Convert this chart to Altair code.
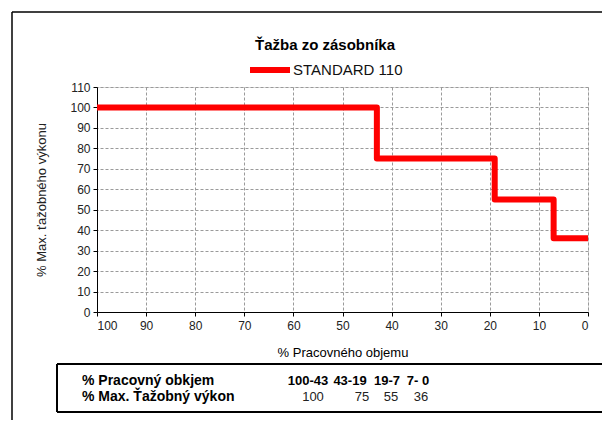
import altair as alt
import pandas as pd

# Data
bounds = [100, 43, 19, 7, 0]          # % Pracovného objemu breakpoints
levels = [100, 75, 55, 36]            # % Max. ťažobného výkonu
series_name = "STANDARD 110"
table_row_labels = ["% Pracovný obkjem", "% Max. Ťažobný výkon"]
table_ranges = ["100-43", "43-19", "19-7", "7- 0"]
table_values = ["100", "75", "55", "36"]

# build step line points
pts = []
for i, lv in enumerate(levels):
    pts.append({"x": bounds[i], "y": lv, "s": series_name})
    pts.append({"x": bounds[i + 1], "y": lv, "s": series_name})
for k, p in enumerate(pts):
    p["o"] = k
df = pd.DataFrame(pts)

FONT = "Liberation Sans"
W, H = 491, 225

xscale = alt.Scale(domain=[0, 100], reverse=True, nice=False)
yscale = alt.Scale(domain=[0, 110], nice=False)

line = alt.Chart(df).mark_line(strokeWidth=6, strokeJoin="round", strokeCap="butt").encode(
    x=alt.X("x:Q", scale=xscale,
            axis=alt.Axis(values=list(range(0, 101, 10)), title="% Pracovného objemu",
                          grid=True, gridDash=[3, 2], gridColor="#9a9a9a", gridWidth=1,
                          domainColor="#000000", domainWidth=1, tickColor="#000000", tickSize=4,
                          labelFontSize=12, labelColor="#222222", labelFont=FONT, labelPadding=4,
                          titleFontSize=13, titleFontWeight="normal", titleFont=FONT,
                          titleColor="#000000", titlePadding=15)),
    y=alt.Y("y:Q", scale=yscale,
            axis=alt.Axis(values=list(range(0, 111, 10)), title="% Max. ťažobného výkonu",
                          grid=True, gridDash=[3, 2], gridColor="#9a9a9a", gridWidth=1,
                          domainColor="#000000", domainWidth=1, tickColor="#000000", tickSize=4,
                          labelFontSize=12, labelColor="#222222", labelFont=FONT, labelPadding=3,
                          titleFontSize=13, titleFontWeight="normal", titleFont=FONT,
                          titleColor="#222222", titlePadding=21)),
    order="o:Q",
    color=alt.Color("s:N", scale=alt.Scale(domain=[series_name], range=["#ff0000"]),
                    legend=alt.Legend(title=None, orient="none", legendX=150, legendY=-40,
                                      symbolType="stroke", symbolSize=1600, symbolStrokeWidth=6,
                                      labelFontSize=15, labelFont=FONT, labelColor="#111111",
                                      labelOffset=0)),
)

# Title
title = alt.Chart(pd.DataFrame({"t": ["Ťažba zo zásobníka"]})).mark_text(
    font=FONT, fontSize=15, fontWeight="bold", color="#000000", align="center", baseline="middle"
).encode(text="t:N", x=alt.value(228), y=alt.value(-42))

# Outer frame (left and top edges visible; continues past the page)
frame_l = alt.Chart(pd.DataFrame({"a": [0]})).mark_rule(stroke="#000000", strokeWidth=1.5).encode(
    x=alt.value(-85), y=alt.value(-75), y2=alt.value(400))
frame_t = alt.Chart(pd.DataFrame({"a": [0]})).mark_rule(stroke="#000000", strokeWidth=1.5).encode(
    y=alt.value(-75), x=alt.value(-85), x2=alt.value(600))

# Table box
BOX_TOP, BOX_BOT = 277, 325
box_top = alt.Chart(pd.DataFrame({"a": [0]})).mark_rule(stroke="#000000", strokeWidth=2).encode(
    y=alt.value(BOX_TOP), x=alt.value(-40), x2=alt.value(508))
box_bot = alt.Chart(pd.DataFrame({"a": [0]})).mark_rule(stroke="#000000", strokeWidth=2).encode(
    y=alt.value(BOX_BOT), x=alt.value(-40), x2=alt.value(508))
box_l = alt.Chart(pd.DataFrame({"a": [0]})).mark_rule(stroke="#000000", strokeWidth=2).encode(
    x=alt.value(-40), y=alt.value(BOX_TOP), y2=alt.value(BOX_BOT))
box_r = alt.Chart(pd.DataFrame({"a": [0]})).mark_rule(stroke="#000000", strokeWidth=2).encode(
    x=alt.value(508), y=alt.value(BOX_TOP), y2=alt.value(BOX_BOT))

ROW_Y = [294, 310]
rowlab = alt.Chart(pd.DataFrame({"t": table_row_labels, "py": ROW_Y})).mark_text(
    font=FONT, fontSize=14, fontWeight="bold", color="#000000", align="left", baseline="middle"
).encode(text="t:N", x=alt.value(-15), y=alt.Y("py:Q", scale=None))

rng_x = [211, 253, 290, 321]
val_x = [216, 265, 294, 324]
rngs = alt.Chart(pd.DataFrame({"t": table_ranges, "px": rng_x})).mark_text(
    font=FONT, fontSize=13, fontWeight="bold", color="#000000", align="center", baseline="middle"
).encode(text="t:N", x=alt.X("px:Q", scale=None), y=alt.value(ROW_Y[0]))
vals = alt.Chart(pd.DataFrame({"t": table_values, "px": val_x})).mark_text(
    font=FONT, fontSize=13, color="#222222", align="center", baseline="middle"
).encode(text="t:N", x=alt.X("px:Q", scale=None), y=alt.value(ROW_Y[1]))

chart = alt.layer(frame_l, frame_t, line, title, box_top, box_bot, box_l, box_r,
                  rowlab, rngs, vals).properties(
    width=W, height=H,
    autosize=alt.AutoSizeParams(type="none"),
    padding={"left": 89, "top": 79, "right": 14, "bottom": 108},
).configure_view(stroke=None).configure(font=FONT)

chart.save("out.html", embed_options={"renderer": "svg", "actions": False})
